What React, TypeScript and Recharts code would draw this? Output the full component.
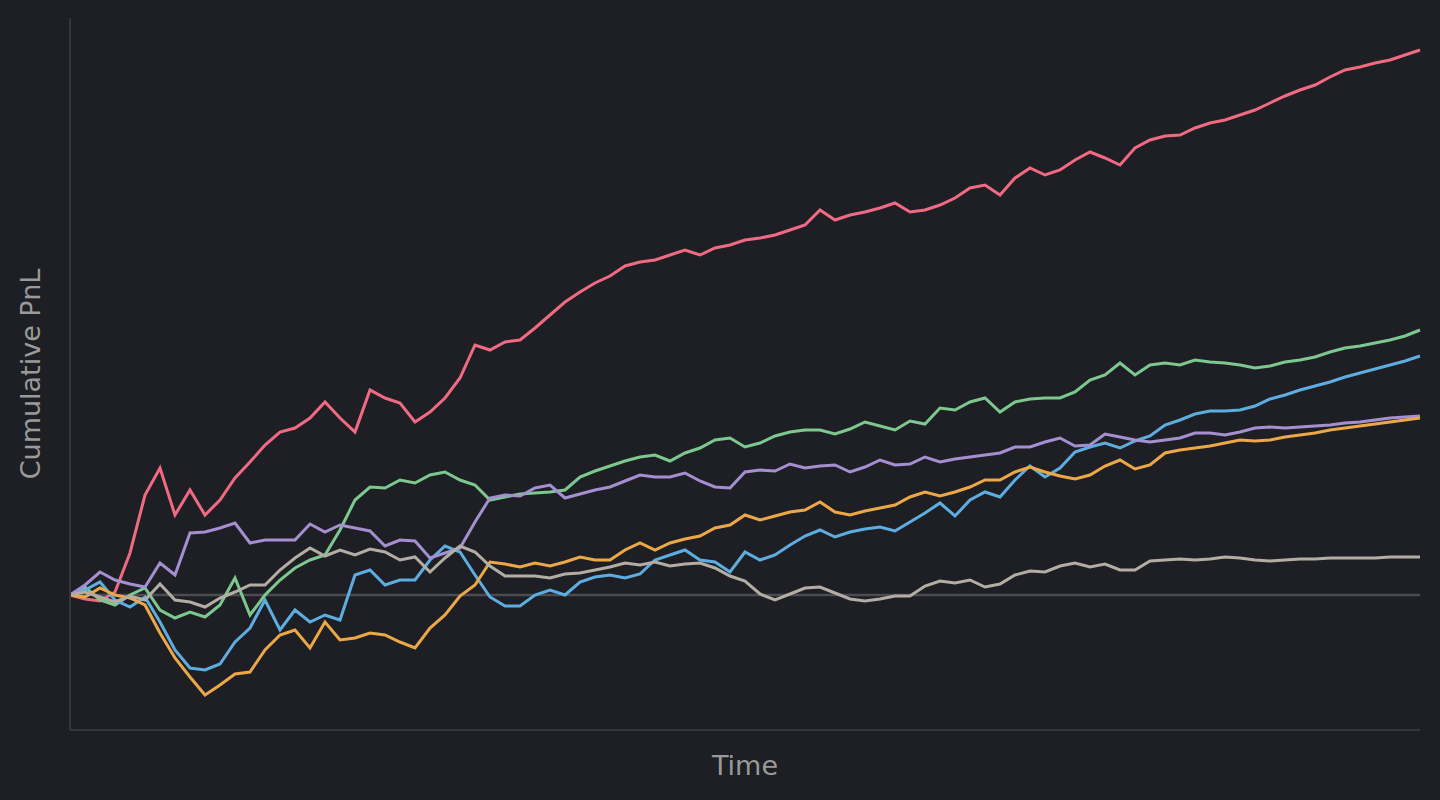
import React from 'react';
import {LineChart, Line, XAxis, YAxis, ReferenceLine, Label} from 'recharts';

// time steps (one per sample)
const steps = Array.from({length: 91}, (_, i) => i);

const alphaA = [
  0, -4, -6, 3, 42, 100, 127, 80, 105, 80,
  95, 117, 133, 150, 163, 167, 177, 193, 177, 163,
  205, 197, 192, 173, 183, 197, 217, 250, 245, 253,
  255, 267, 280, 293, 303, 312, 319, 329, 333, 335,
  340, 345, 340, 347, 350, 355, 357, 360, 365, 370,
  385, 375, 380, 383, 387, 392, 383, 385, 390, 397,
  407, 410, 400, 417, 427, 420, 425, 435, 443, 437,
  430, 447, 455, 459, 460, 467, 472, 475, 480, 485,
  492, 499, 505, 510, 518, 525, 528, 532, 535, 540,
  545,
];

const alphaB = [
  0, 8, -5, -10, 0, 7, -15, -23, -17, -22,
  -10, 17, -20, 0, 15, 27, 35, 40, 65, 95,
  108, 107, 115, 112, 120, 123, 115, 110, 95, 98,
  101, 102, 103, 105, 118, 124, 129, 134, 138, 140,
  134, 142, 147, 155, 157, 148, 152, 159, 163, 165,
  165, 161, 166, 173, 169, 165, 174, 171, 187, 185,
  193, 197, 183, 193, 196, 197, 197, 203, 215, 220,
  232, 220, 230, 232, 230, 235, 233, 232, 230, 227,
  229, 233, 235, 238, 243, 247, 249, 252, 255, 259,
  265,
];

const alphaC = [
  0, 5, 13, -5, -12, -2, -27, -55, -73, -75,
  -69, -47, -33, -5, -35, -15, -27, -20, -25, 20,
  25, 10, 15, 15, 35, 49, 43, 20, -2, -11,
  -11, 0, 5, 0, 13, 18, 20, 17, 21, 35,
  40, 45, 35, 33, 23, 43, 35, 40, 50, 59,
  65, 58, 63, 66, 68, 64, 73, 82, 92, 79,
  95, 103, 98, 115, 129, 118, 127, 143, 148, 152,
  147, 154, 159, 170, 175, 181, 184, 184, 185, 189,
  196, 200, 205, 209, 213, 218, 222, 226, 230, 234,
  239,
];

const alphaD = [
  0, 10, 23, 15, 11, 8, 32, 20, 62, 63,
  67, 72, 52, 55, 55, 55, 71, 63, 70, 67,
  64, 49, 55, 54, 37, 42, 47, 73, 97, 100,
  99, 107, 110, 97, 101, 105, 108, 114, 120, 118,
  118, 122, 114, 108, 107, 123, 125, 124, 131, 127,
  129, 130, 123, 128, 135, 130, 131, 138, 133, 136,
  138, 140, 142, 148, 148, 153, 157, 149, 150, 161,
  158, 155, 153, 155, 157, 162, 162, 160, 163, 167,
  168, 167, 168, 169, 170, 172, 173, 175, 177, 178,
  179,
];

const alphaE = [
  0, -2, 7, 0, -3, -10, -38, -63, -82, -100,
  -90, -79, -77, -55, -40, -35, -53, -27, -45, -43,
  -38, -40, -47, -53, -33, -20, -1, 10, 33, 31,
  28, 32, 29, 33, 38, 35, 35, 45, 52, 45,
  52, 56, 59, 67, 70, 80, 75, 79, 83, 85,
  93, 83, 80, 84, 87, 90, 98, 103, 99, 103,
  108, 115, 115, 123, 128, 123, 119, 116, 120, 129,
  135, 126, 130, 142, 145, 147, 149, 152, 155, 154,
  155, 158, 160, 162, 165, 167, 169, 171, 173, 175,
  177,
];

const alphaF = [
  0, 3, -2, -7, -1, -5, 11, -5, -7, -12,
  -3, 3, 10, 10, 25, 37, 47, 39, 45, 40,
  46, 43, 35, 38, 23, 37, 49, 43, 29, 19,
  19, 19, 17, 21, 22, 25, 28, 32, 30, 33,
  29, 31, 32, 27, 19, 14, 1, -5, 1, 7,
  8, 2, -4, -6, -4, -1, -1, 9, 14, 12,
  15, 8, 11, 20, 24, 23, 29, 32, 28, 31,
  25, 25, 34, 35, 36, 35, 36, 38, 37, 35,
  34, 35, 36, 36, 37, 37, 37, 37, 38, 38,
  38,
];

const series = [
  {key: 'a', values: alphaA, color: '#f06a82'},
  {key: 'b', values: alphaB, color: '#7cc88f'},
  {key: 'c', values: alphaC, color: '#5eade0'},
  {key: 'd', values: alphaD, color: '#a58fd0'},
  {key: 'e', values: alphaE, color: '#eca847'},
  {key: 'f', values: alphaF, color: '#b3ada3'},
];

const data = steps.map((t, i) => {
  const row: any = {t};
  series.forEach(s => { row[s.key] = s.values[i]; });
  return row;
});

const labelStyle = {fill: '#9a9a9a', fontSize: 27, fontFamily: '"DejaVu Sans", sans-serif'};

const App = () => (
  <div style={{position: 'fixed', left: 0, top: 0, width: 1440, height: 800, background: '#1e1f24'}}>
    <LineChart width={1440} height={800} data={data} margin={{top: 18, right: 20, bottom: 0, left: 0}}>
      <XAxis dataKey="t" type="number" domain={[0, 90]} tick={false} tickLine={false}
             axisLine={{stroke: '#35363b', strokeWidth: 2}} height={70}>
        <Label value="Time" position="center" style={labelStyle} />
      </XAxis>
      <YAxis type="number" domain={[-135, 577]} tick={false} tickLine={false}
             axisLine={{stroke: '#35363b', strokeWidth: 2}} width={70}>
        <Label value="Cumulative PnL" angle={-90} position="center" dx={-5} style={labelStyle} />
      </YAxis>
      <ReferenceLine y={0} stroke="#4a4c52" strokeWidth={2.5} />
      {series.map(s => (
        <Line key={s.key} dataKey={s.key} stroke={s.color} strokeWidth={3} dot={false}
              type="linear" isAnimationActive={false} />
      ))}
    </LineChart>
  </div>
);

export default App;
